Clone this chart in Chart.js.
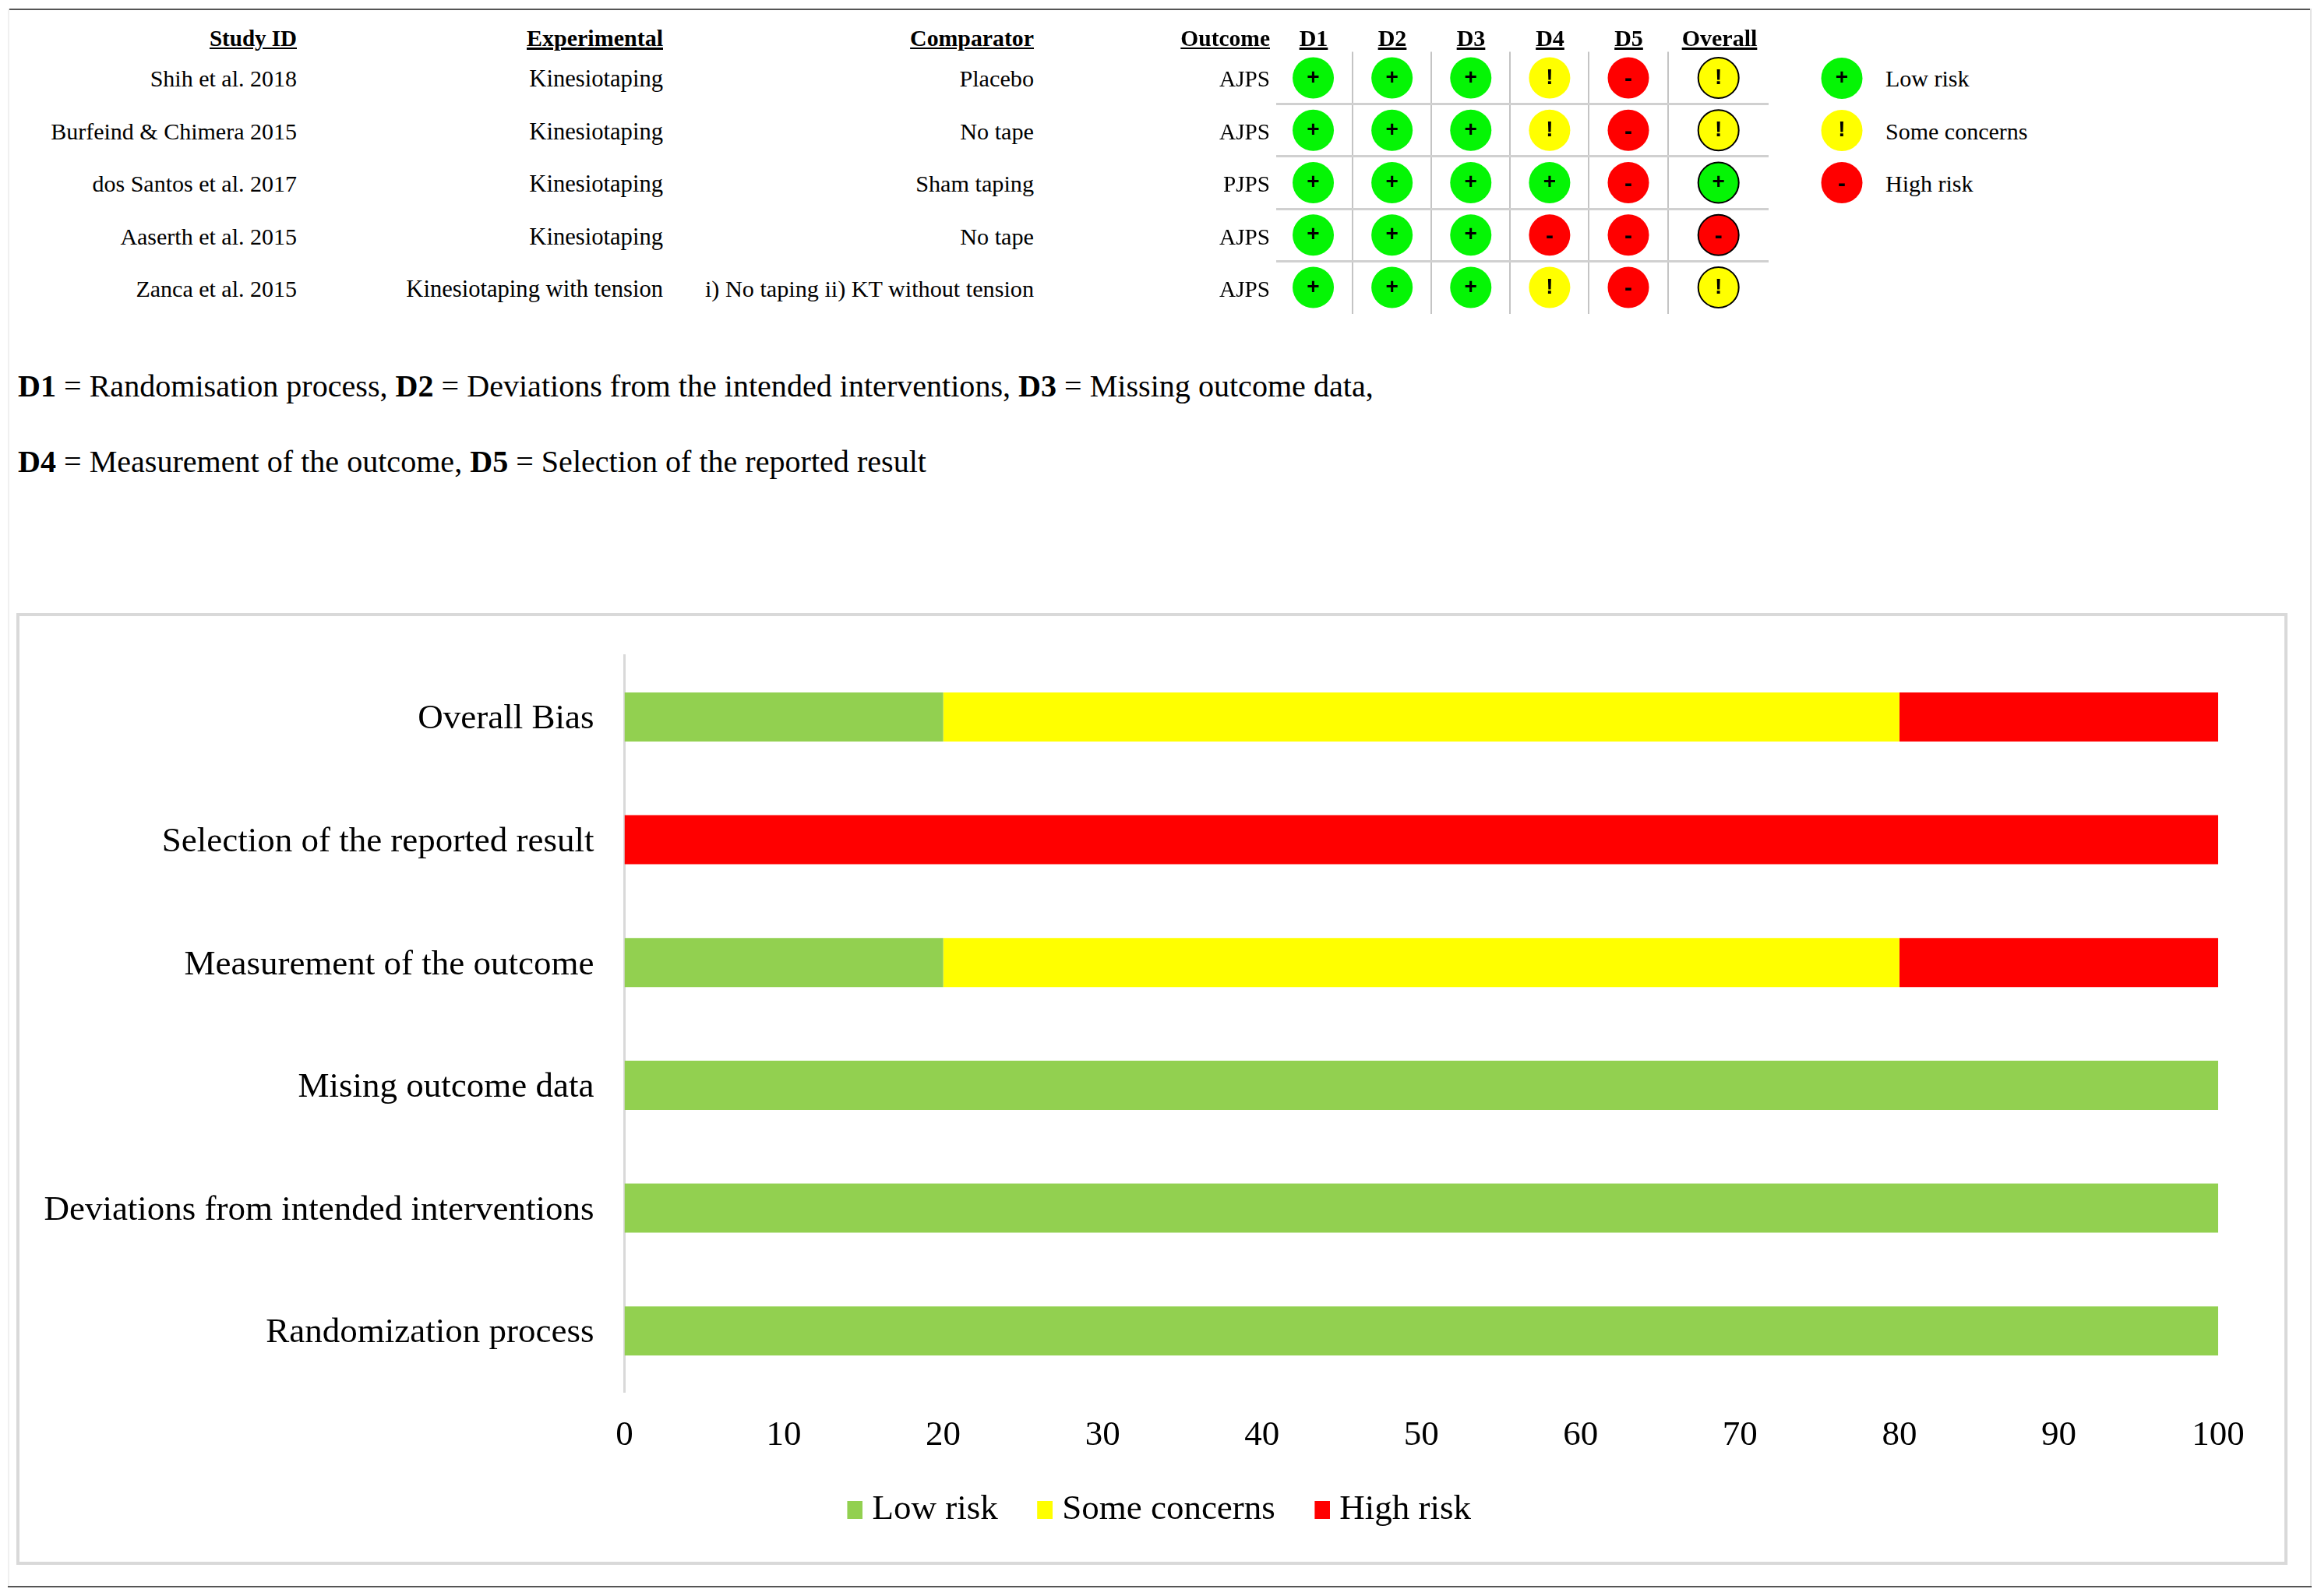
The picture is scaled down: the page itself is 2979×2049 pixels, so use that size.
<!DOCTYPE html>
<html>
<head>
<meta charset="utf-8">
<script src="https://cdn.jsdelivr.net/npm/chart.js@4/dist/chart.umd.min.js"></script>
<style>
html,body{margin:0;padding:0;background:#fff;width:2979px;height:2049px;overflow:hidden}
body{position:relative;font-family:"Liberation Serif",serif;color:#000}
.t{position:absolute;white-space:nowrap;line-height:60px;height:60px}
.rule{position:absolute}
canvas{position:absolute;display:block}
</style>
</head>
<body>
<div class="rule" style="left:10px;top:11px;width:2957px;height:2px;background:#555"></div>
<div class="rule" style="left:10px;top:2036px;width:2957px;height:2px;background:#555"></div>
<div class="rule" style="left:10px;top:11px;width:2px;height:2025px;background:#f0f0f0"></div>
<div class="rule" style="left:2965px;top:11px;width:2px;height:2025px;background:#e4e4e4"></div>
<div class="rule" style="left:21px;top:787px;width:2915px;height:1222px;box-sizing:border-box;border:4px solid #d9d9d9"></div>
<canvas id="rob" width="700" height="350" style="left:1600px;top:60px;width:700px;height:350px"></canvas>
<canvas id="key" width="80" height="201" style="left:2324px;top:66.5px;width:80px;height:201px"></canvas>
<canvas id="bars" width="2940" height="1216" style="left:40px;top:790px;width:2940px;height:1216px"></canvas>
<script>
// ---- traffic-light table ----
const studies = ["Shih et al. 2018","Burfeind & Chimera 2015","dos Santos et al. 2017","Aaserth et al. 2015","Zanca et al. 2015"];
const experimental = ["Kinesiotaping","Kinesiotaping","Kinesiotaping","Kinesiotaping","Kinesiotaping with tension"];
const comparator = ["Placebo","No tape","Sham taping","No tape","i) No taping ii) KT without tension"];
const outcome = ["AJPS","AJPS","PJPS","AJPS","AJPS"];
const tableHeaders = ["Study ID","Experimental","Comparator","Outcome"];
const domains = ["D1","D2","D3","D4","D5","Overall"];
const d1 = ["+","+","+","+","+"];
const d2 = ["+","+","+","+","+"];
const d3 = ["+","+","+","+","+"];
const d4 = ["!","!","+","-","!"];
const d5 = ["-","-","-","-","-"];
const overall = ["!","!","+","-","!"];
const keySymbols = ["+","!","-"];
const keyLabels = ["Low risk","Some concerns","High risk"];
const notes = [
  "<b>D1</b> = Randomisation process, <b>D2</b> = Deviations from the intended interventions, <b>D3</b> = Missing outcome data,",
  "<b>D4</b> = Measurement of the outcome, <b>D5</b> = Selection of the reported result"
];
// ---- summary bars ----
const categories = ["Overall Bias","Selection of the reported result","Measurement of the outcome","Mising outcome data","Deviations from intended interventions","Randomization process"];
const lowRisk = [20,0,20,100,100,100];
const someConcerns = [60,0,60,0,0,0];
const highRisk = [20,100,20,0,0,0];
const seriesNames = ["Low risk","Some concerns","High risk"];
const seriesColors = ["#92d050","#ffff00","#ff0000"];

// ---- page text ----
function put(html, opts){
  const d=document.createElement('div');
  d.className='t';
  d.innerHTML=html;
  d.style.fontSize=opts.size+'px';
  d.style.top=(opts.cy-30)+'px';
  if(opts.right!==undefined) d.style.right=(2979-opts.right)+'px';
  if(opts.left!==undefined) d.style.left=opts.left+'px';
  if(opts.bold) d.style.fontWeight='bold';
  if(opts.underline) d.style.textDecoration='underline';
  document.body.appendChild(d);
}
const esc=s=>s.replace(/&/g,'&amp;');
const headRight=[381,851,1327,1630];
const headSize=[29,30,29.8,29.5];
const cellSize=[30,30.6,30.2,29.2];
tableHeaders.forEach((h,i)=>put(esc(h),{size:headSize[i],cy:49,right:headRight[i],bold:true,underline:true}));
const rowCy=[101,168.5,236,303.5,371];
[studies,experimental,comparator,outcome].forEach((col,c)=>{
  col.forEach((s,r)=>put(esc(s),{size:cellSize[c],cy:rowCy[r],right:headRight[c]}));
});
const domainCx=[1686,1787,1888,1989.5,2090.5,2207];
domains.forEach((h,i)=>{
  const d=document.createElement('div');
  d.className='t';d.textContent=h;
  d.style.cssText+='font-size:30px;font-weight:bold;text-decoration:underline;width:200px;text-align:center;';
  d.style.left=(domainCx[i]-100)+'px';d.style.top='19px';
  document.body.appendChild(d);
});
keyLabels.forEach((s,i)=>put(s,{size:30,cy:rowCy[i],left:2420}));
put(notes[0],{size:40.08,cy:495.5,left:23});
put(notes[1],{size:40.08,cy:592.5,left:23});

// ---- colours ----
const tone={"+":"#05f505","!":"#ffff00","-":"#ff0000"};
const glyphFont={"+":'bold 28px "Liberation Sans"',"!":'bold 28px "Liberation Sans"',"-":'bold 30px "Liberation Sans"'};

const symbolPlugin={
  id:'symbols',
  afterDatasetsDraw(chart){
    const ctx=chart.ctx;
    ctx.save();
    ctx.fillStyle='#000';ctx.textAlign='center';ctx.textBaseline='middle';
    chart.data.datasets.forEach((ds,i)=>{
      chart.getDatasetMeta(i).data.forEach((p,j)=>{
        const s=ds.symbols[j];
        ctx.font=glyphFont[s];
        ctx.fillText(s,p.x,p.y+(s==='-'?2:0));
      });
    });
    ctx.restore();
  }
};

// column centres on a unit scale: D1..D5 one unit apart, Overall column is wider
const colPos=i=>i<5?i+1:6.144;
const judgements=[d1,d2,d3,d4,d5,overall];
new Chart(document.getElementById('rob'),{
  type:'scatter',
  data:{datasets:judgements.map((col,i)=>({
    label:domains[i],
    data:col.map((s,r)=>({x:colPos(i),y:r+1})),
    symbols:col,
    pointBackgroundColor:col.map(s=>tone[s]),
    pointBorderColor:'#000',
    pointBorderWidth:i===5?2:0,
    pointRadius:i===5?26:26.5,
    pointHoverRadius:26.5,
    showLine:false
  }))},
  options:{
    responsive:false,animation:false,devicePixelRatio:1,
    layout:{autoPadding:false,padding:{left:38,right:30,top:6.4,bottom:7.4}},
    plugins:{legend:{display:false},tooltip:{enabled:false}},
    scales:{
      x:{type:'linear',min:0.53,max:6.78,
        afterBuildTicks:a=>{a.ticks=[1.5,2.5,3.5,4.5,5.5].map(v=>({value:v}));},
        ticks:{display:false},border:{display:false},
        grid:{color:'#c4c4c4',lineWidth:2,drawTicks:false}},
      y:{type:'linear',min:0.5,max:5.5,reverse:true,
        afterBuildTicks:a=>{a.ticks=[1.5,2.5,3.5,4.5].map(v=>({value:v}));},
        ticks:{display:false},border:{display:false},
        grid:{color:'#d0d0d0',lineWidth:3,drawTicks:false}}
    }
  },
  plugins:[symbolPlugin]
});

new Chart(document.getElementById('key'),{
  type:'scatter',
  data:{datasets:[{
    label:'Key',
    data:keySymbols.map((s,r)=>({x:1,y:r+1})),
    symbols:keySymbols,
    pointBackgroundColor:keySymbols.map(s=>tone[s]),
    pointBorderWidth:0,pointRadius:26.5,pointHoverRadius:26.5,showLine:false
  }]},
  options:{
    responsive:false,animation:false,devicePixelRatio:1,
    layout:{autoPadding:false},
    plugins:{legend:{display:false},tooltip:{enabled:false}},
    scales:{
      x:{type:'linear',min:0,max:2,display:false},
      y:{type:'linear',min:0.5,max:3.5,reverse:true,display:false}
    }
  },
  plugins:[symbolPlugin]
});

// ---- stacked bars ----
const serif='"Liberation Serif"';
// legend swatch whose coloured part sits at the right of the box, tight against the text
function swatch(color){
  const c=document.createElement('canvas');
  c.width=41;c.height=23;
  const x=c.getContext('2d');
  x.fillStyle=color;x.fillRect(21,0,20,23);
  return c;
}
const swatches=seriesColors.map(swatch);
const legendShift={
  id:'legendShift',
  afterLayout(chart){chart.legend.left+=34;chart.legend.right+=34;}
};
new Chart(document.getElementById('bars'),{
  type:'bar',
  data:{
    labels:categories,
    datasets:[
      {label:seriesNames[0],data:lowRisk,backgroundColor:seriesColors[0]},
      {label:seriesNames[1],data:someConcerns,backgroundColor:seriesColors[1]},
      {label:seriesNames[2],data:highRisk,backgroundColor:seriesColors[2]}
    ]
  },
  options:{
    indexAxis:'y',responsive:false,animation:false,devicePixelRatio:1,
    barPercentage:0.4,categoryPercentage:1,
    layout:{autoPadding:false,padding:{left:10,right:133,top:51.6,bottom:35.5}},
    plugins:{
      tooltip:{enabled:false},
      legend:{position:'bottom',labels:{
        usePointStyle:true,pointStyleWidth:20,boxHeight:23,padding:40,color:'#000',font:{family:serif,size:45},
        generateLabels:ch=>Chart.defaults.plugins.legend.labels.generateLabels(ch).map((it,i)=>({...it,pointStyle:swatches[i]}))
      }}
    },
    scales:{
      x:{stacked:true,min:0,max:100,
        afterFit:s=>{s.height=88;s.paddingLeft=0;s.paddingRight=0;},
        ticks:{stepSize:10,maxRotation:0,autoSkip:false,padding:29,color:'#000',font:{family:serif,size:45}},
        grid:{display:false,drawTicks:false},border:{display:false}},
      y:{stacked:true,
        afterFit:s=>{s.width=751.5;s.paddingTop=0;s.paddingBottom=0;},
        ticks:{padding:39,labelOffset:3,color:'#000',autoSkip:false,font:{family:serif,size:45}},
        grid:{display:false,drawTicks:false},
        border:{display:true,color:'#d9d9d9',width:3}}
    }
  },
  plugins:[legendShift]
});
</script>
</body>
</html>
